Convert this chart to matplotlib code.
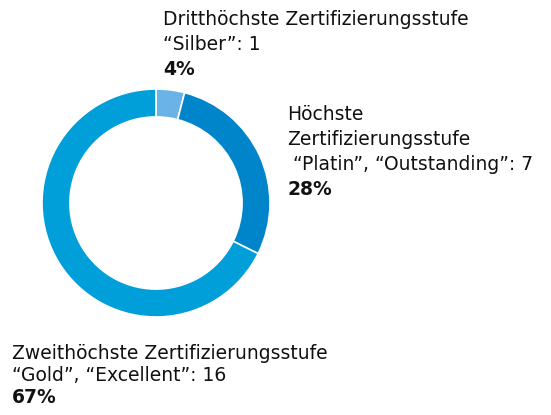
import matplotlib
matplotlib.use('Agg')
import matplotlib.pyplot as plt

# certification levels, clockwise from the top
labels = ['Dritthöchste Zertifizierungsstufe\n“Silber”: 1',
          'Höchste\nZertifizierungsstufe\n “Platin”, “Outstanding”: 7',
          'Zweithöchste Zertifizierungsstufe\n“Gold”, “Excellent”: 16']
counts = [1, 7, 16]
shares = [4, 28, 67]
colors = ['#69b3e7', '#0085ca', '#009fda']

W, H = 551, 415
fig = plt.figure(figsize=(W / 100, H / 100), dpi=100)
plt.rcParams['font.family'] = ['DejaVu Sans']

# donut, centre (156, 203) px, radius 114 px
cx, cy, r = 156, 203, 114
ax = fig.add_axes([(cx - r) / W, (H - cy - r) / H, 2 * r / W, 2 * r / H])
ax.pie(shares, colors=colors, startangle=90, counterclock=False,
       wedgeprops=dict(width=0.245, edgecolor='white', linewidth=1.2))
ax.set_xlim(-1, 1)
ax.set_ylim(-1, 1)
ax.set_aspect('equal')
ax.axis('off')

# label blocks: left x and baseline of the first line, in pixels
blocks = [(163, 25, 25), (287, 120, 25), (12, 359, 22)]
fs = 13.5
for (x, y0, step), lab, pct in zip(blocks, labels, shares):
    lines = lab.split('\n')
    for i, line in enumerate(lines):
        fig.text(x / W, 1 - (y0 + i * step) / H, line, fontsize=fs,
                 va='baseline', ha='left', color='#111111')
    fig.text(x / W, 1 - (y0 + len(lines) * step) / H, f'{pct}%', fontsize=fs,
             fontweight='bold', va='baseline', ha='left', color='#111111')

fig.savefig('out.png', dpi=100)
